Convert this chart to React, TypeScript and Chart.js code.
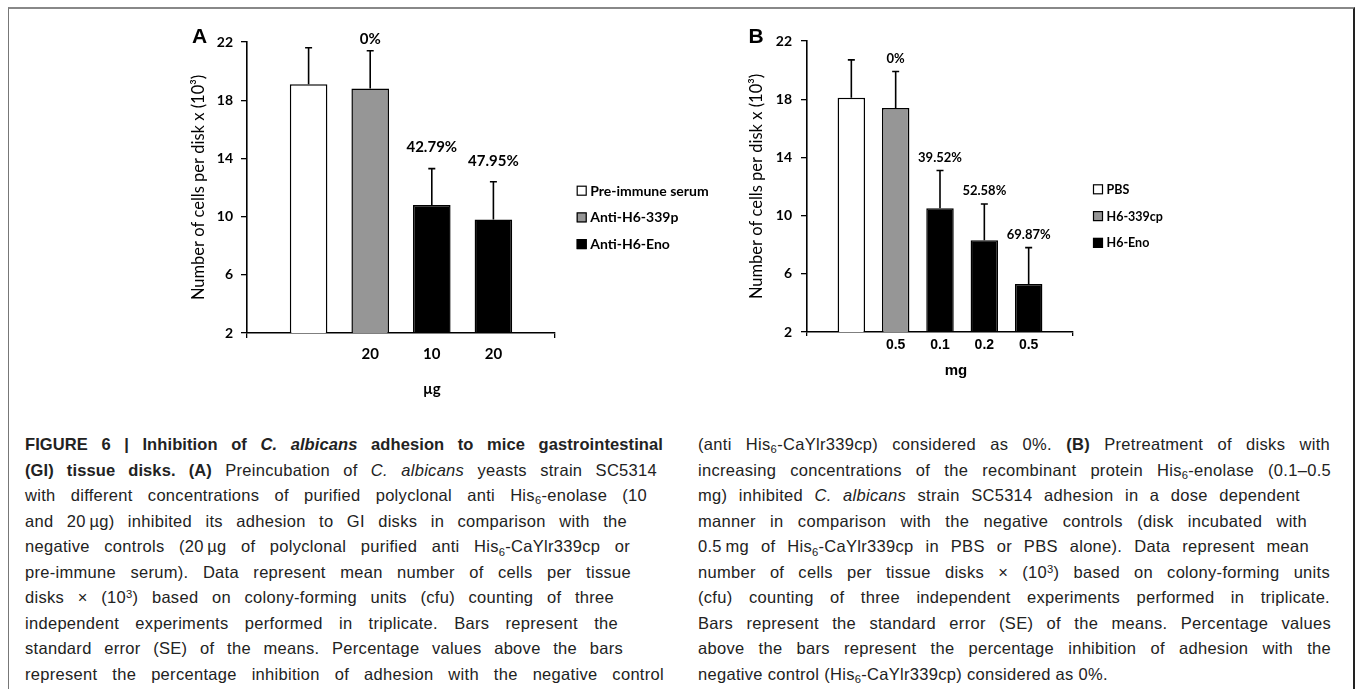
import React, { useEffect, useLayoutEffect, useRef } from "react";
import { Chart, registerables } from "chart.js";
Chart.register(...registerables);

// ---------- Panel A data ----------
const categoriesA = ["", "", "20", "10", "20", ""];
const seriesA = ["Pre-immune serum", "Anti-H6-339p", "Anti-H6-Eno"];
const preImmuneA = [null, 19.1, null, null, null, null];
const anti339pA = [null, null, 18.8, null, null, null];
const antiEnoA = [null, null, null, 10.8, 9.8, null];
const errorsA = [null, 2.5, 2.6, 2.5, 2.6, null];
const percentA = ["", "", "0%", "42.79%", "47.95%", ""];

// ---------- Panel B data ----------
const categoriesB = ["", "", "0.5", "0.1", "0.2", "0.5", ""];
const seriesB = ["PBS", "H6-339cp", "H6-Eno"];
const pbsB = [null, 18.1, null, null, null, null, null];
const h6339cpB = [null, null, 17.4, null, null, null, null];
const h6EnoB = [null, null, null, 10.5, 8.3, 5.3, null];
const errorsB = [null, 2.6, 2.5, 2.6, 2.5, 2.5, null];
const percentB = ["", "", "0%", "39.52%", "52.58%", "69.87%", ""];

// ---------- shared axis ----------
const yMin = 2;
const yMax = 22;
const yStep = 4;
const yTitle = "Number of cells per disk x (10\u00b3)";
const fills = ["#ffffff", "#969696", "#000000"];

const barExtras = {
  id: "barExtras",
  afterDatasetsDraw(chart: any, _a: any, o: any) {
    const { ctx, chartArea, scales } = chart;
    const y = scales.y;
    ctx.save();
    chart.data.datasets.forEach((ds: any, di: number) => {
      const meta = chart.getDatasetMeta(di);
      meta.data.forEach((el: any, i: number) => {
        const v = ds.data[i];
        if (v == null) return;
        const e = o.errors[i] || 0;
        const yTop = y.getPixelForValue(v + e);
        const yBar = y.getPixelForValue(v);
        ctx.strokeStyle = "#000";
        ctx.lineWidth = 1.6;
        ctx.beginPath();
        ctx.moveTo(el.x, yBar);
        ctx.lineTo(el.x, yTop);
        ctx.moveTo(el.x - o.cap, yTop);
        ctx.lineTo(el.x + o.cap, yTop);
        ctx.stroke();
        const lab = o.percent[i];
        if (lab) {
          ctx.font = `bold ${o.pctSize}px Lato`;
          ctx.fillStyle = "#000";
          ctx.textAlign = "center";
          ctx.textBaseline = "middle";
          const ly = Math.max(yTop - o.pctGap, chartArea.top - 3);
          ctx.fillText(lab, el.x, ly);
        }
      });
    });
    ctx.restore();
  },
  afterDraw(chart: any, _a: any, o: any) {
    const { ctx, chartArea, scales } = chart;
    ctx.save();
    chart.data.datasets.forEach((ds: any, di: number) => {
      const cy = o.legendY + di * o.legendDy;
      const sx = chartArea.right + o.legendDx;
      ctx.fillStyle = ds.backgroundColor;
      ctx.fillRect(sx, cy - 5, 10, 10);
      ctx.strokeStyle = "#000";
      ctx.lineWidth = 1.2;
      ctx.strokeRect(sx + 0.5, cy - 4.5, 9, 9);
      ctx.fillStyle = "#000";
      ctx.font = `bold ${o.legendSize}px Lato`;
      ctx.textAlign = "left";
      ctx.textBaseline = "middle";
      ctx.fillText(ds.label, sx + 13.5, cy + 0.5);
    });
    ctx.font = o.xTitleFont;
    ctx.textAlign = "center";
    ctx.textBaseline = "middle";
    ctx.fillText(o.xTitle, scales.x.getPixelForValue(o.xTitleAt), o.xTitleY);
    ctx.font = "bold 21px 'Liberation Sans'";
    ctx.fillText(o.letter, o.letterX, o.letterY);
    ctx.restore();
  },
};

function makeConfig(p: any) {
  const n = p.categories.length;
  return {
    type: "bar",
    data: {
      labels: p.categories,
      datasets: p.series.map((label: string, i: number) => ({
        label,
        data: p.values[i],
        backgroundColor: fills[i],
        borderColor: "#000",
        borderWidth: 1.5,
        categoryPercentage: 1,
        barPercentage: p.barPct,
      })),
    },
    options: {
      animation: false,
      responsive: false,
      events: [],
      layout: { padding: { left: 0, top: p.padTop, right: p.padRight, bottom: 0 } },
      plugins: {
        legend: { display: false },
        tooltip: { enabled: false },
        barExtras: {
          errors: p.errors,
          percent: p.percent,
          cap: 3.5,
          pctSize: p.pctSize,
          pctGap: p.pctGap,
          legendDx: p.legendDx,
          legendY: p.legendY,
          legendDy: p.legendDy,
          legendSize: p.legendSize,
          xTitle: p.xTitle,
          xTitleAt: p.xTitleAt,
          xTitleY: p.xTitleY,
          xTitleFont: p.xTitleFont,
          letter: p.letter,
          letterX: p.letterX,
          letterY: p.letterY,
        },
      },
      scales: {
        x: {
          type: "category",
          offset: false,
          stacked: true,
          afterFit: (s: any) => {
            s.height = p.xHeight;
          },
          grid: {
            offset: false,
            drawOnChartArea: false,
            tickLength: p.xTickLen,
            lineWidth: 1.3,
            color: "#000",
            tickColor: (c: any) => (c.index === 0 || c.index === n - 1 ? "#000" : "rgba(0,0,0,0)"),
          },
          border: { display: true, color: "#000", width: 1.6 },
          ticks: {
            autoSkip: false,
            maxRotation: 0,
            color: "#000",
            padding: p.xTickPad,
            font: p.xTickFont,
          },
        },
        y: {
          min: yMin,
          max: yMax,
          afterFit: (s: any) => {
            s.width = p.yWidth;
          },
          grid: { drawOnChartArea: false, tickLength: 6, color: "#000", lineWidth: 1.3 },
          border: { display: true, color: "#000", width: 1.6 },
          ticks: {
            stepSize: yStep,
            color: "#000",
            padding: p.yTickPad,
            font: { family: "Lato", size: 14, weight: "bold" },
          },
          title: {
            display: true,
            text: yTitle,
            color: "#000",
            font: { family: "Lato", size: 16.5 },
            padding: { top: p.yTitlePad, bottom: 0 },
          },
        },
      },
    },
    plugins: [barExtras],
  };
}

const panelA = {
  left: 150,
  width: 560,
  height: 410,
  categories: categoriesA,
  series: seriesA,
  values: [preImmuneA, anti339pA, antiEnoA],
  errors: errorsA,
  percent: percentA,
  barPct: 0.61,
  padTop: 42,
  padRight: 155,
  yWidth: 97,
  xHeight: 77,
  yTitlePad: 39,
  yTickPad: 8,
  xTickLen: 5,
  xTickPad: 7,
  xTickFont: { family: "Lato", size: 15, weight: "bold" },
  xTitle: "\u00b5g",
  xTitleAt: 3,
  xTitleY: 389,
  xTitleFont: "bold 15px Lato",
  pctSize: 15,
  pctGap: 21,
  legendDx: 21.7,
  legendY: 190.7,
  legendDy: 26.7,
  legendSize: 14,
  letter: "A",
  letterX: 49.5,
  letterY: 37,
};

const panelB = {
  left: 690,
  width: 660,
  height: 410,
  categories: categoriesB,
  series: seriesB,
  values: [pbsB, h6339cpB, h6EnoB],
  errors: errorsB,
  percent: percentB,
  barPct: 0.62,
  padTop: 41,
  padRight: 277,
  yWidth: 117,
  xHeight: 78,
  yTitlePad: 56.5,
  yTickPad: 9,
  xTickLen: 4,
  xTickPad: 1,
  xTickFont: { family: "Liberation Sans", size: 14, weight: "bold" },
  xTitle: "mg",
  xTitleAt: 3.36,
  xTitleY: 371,
  xTitleFont: "bold 15px 'Liberation Sans'",
  pctSize: 13,
  pctGap: 13,
  legendDx: 20,
  legendY: 189.3,
  legendDy: 26.8,
  legendSize: 12.5,
  letter: "B",
  letterX: 66,
  letterY: 37,
};

function ChartPanel({ p }: { p: any }) {
  const ref = useRef<HTMLCanvasElement | null>(null);
  useEffect(() => {
    if (!ref.current) return;
    const chart = new Chart(ref.current, makeConfig(p) as any);
    return () => chart.destroy();
  }, []);
  return (
    <canvas
      ref={ref}
      width={p.width}
      height={p.height}
      style={{ position: "absolute", left: p.left, top: 0, width: p.width, height: p.height }}
    />
  );
}

const S6 = () => (
  <span style={{ fontSize: "0.68em", position: "relative", top: "0.3em", lineHeight: 0 }}>6</span>
);
const Sup3 = () => (
  <span style={{ fontSize: "0.68em", position: "relative", top: "-0.45em", lineHeight: 0 }}>3</span>
);
const NB = "\u202f";

const LINE_H = 25.56;

function Line({ w, last, children }: { w: number; last?: boolean; children: any }) {
  return (
    <div style={{ height: LINE_H, lineHeight: `${LINE_H}px`, whiteSpace: "nowrap" }}>
      <span data-w={last ? undefined : w} style={{ display: "inline-block", whiteSpace: "nowrap" }}>
        {children}
      </span>
    </div>
  );
}

function justifyAll() {
  document.querySelectorAll<HTMLElement>("[data-w]").forEach((el) => {
    const w = Number(el.dataset.w);
    el.style.wordSpacing = "0px";
    const nat = el.getBoundingClientRect().width;
    const spaces = ((el.textContent || "").match(/ /g) || []).length;
    if (spaces > 0) el.style.wordSpacing = `${(w - nat) / spaces}px`;
  });
}

export default function App() {
  useLayoutEffect(() => {
    justifyAll();
    if ((document as any).fonts && (document as any).fonts.ready) {
      (document as any).fonts.ready.then(justifyAll);
    }
  }, []);
  const colStyle: any = {
    position: "absolute",
    top: 432,
    fontFamily: "'Liberation Sans', Arial, sans-serif",
    fontSize: 16.5,
    letterSpacing: "0.3px",
    color: "#222",
  };
  return (
    <div
      style={{
        position: "absolute",
        left: 0,
        top: 0,
        width: 1355,
        height: 689,
        overflow: "hidden",
        background: "#fff",
      }}
    >
      <div
        style={{
          position: "absolute",
          left: 8,
          top: 7,
          width: 1344,
          height: 700,
          borderTop: "2px solid #888",
          borderLeft: "1px solid #777",
          borderRight: "2px solid #222",
        }}
      />
      <ChartPanel p={panelA} />
      <ChartPanel p={panelB} />
      <div style={{ ...colStyle, left: 25 }}>
        <Line w={638}>
          <b style={{ letterSpacing: "0.1px" }}>
            FIGURE 6 | Inhibition of <i>C. albicans</i> adhesion to mice gastrointestinal
          </b>
        </Line>
        <Line w={632}>
          <b style={{ letterSpacing: "0.1px" }}>(GI) tissue disks. (A)</b> Preincubation of <i>C. albicans</i> yeasts strain SC5314
        </Line>
        <Line w={622}>
          with different concentrations of purified polyclonal anti His<S6 />-enolase (10
        </Line>
        <Line w={602}>
          and 20{NB}µg) inhibited its adhesion to GI disks in comparison with the
        </Line>
        <Line w={605}>
          negative controls (20{NB}µg of polyclonal purified anti His<S6 />-CaYlr339cp or
        </Line>
        <Line w={606}>pre-immune serum). Data represent mean number of cells per tissue</Line>
        <Line w={589}>
          disks × (10<Sup3 />) based on colony-forming units (cfu) counting of three
        </Line>
        <Line w={593}>independent experiments performed in triplicate. Bars represent the</Line>
        <Line w={598}>standard error (SE) of the means. Percentage values above the bars</Line>
        <Line w={639}>represent the percentage inhibition of adhesion with the negative control</Line>
      </div>
      <div style={{ ...colStyle, left: 698 }}>
        <Line w={632}>
          (anti His<S6 />-CaYlr339cp) considered as 0%. <b>(B)</b> Pretreatment of disks with
        </Line>
        <Line w={633}>
          increasing concentrations of the recombinant protein His<S6 />-enolase (0.1–0.5
        </Line>
        <Line w={602}>
          mg) inhibited <i>C. albicans</i> strain SC5314 adhesion in a dose dependent
        </Line>
        <Line w={609}>manner in comparison with the negative controls (disk incubated with</Line>
        <Line w={611}>
          0.5{NB}mg of His<S6 />-CaYlr339cp in PBS or PBS alone). Data represent mean
        </Line>
        <Line w={632}>
          number of cells per tissue disks × (10<Sup3 />) based on colony-forming units
        </Line>
        <Line w={632}>(cfu) counting of three independent experiments performed in triplicate.</Line>
        <Line w={633}>Bars represent the standard error (SE) of the means. Percentage values</Line>
        <Line w={633}>above the bars represent the percentage inhibition of adhesion with the</Line>
        <Line w={633} last>
          negative control (His<S6 />-CaYlr339cp) considered as 0%.
        </Line>
      </div>
    </div>
  );
}
